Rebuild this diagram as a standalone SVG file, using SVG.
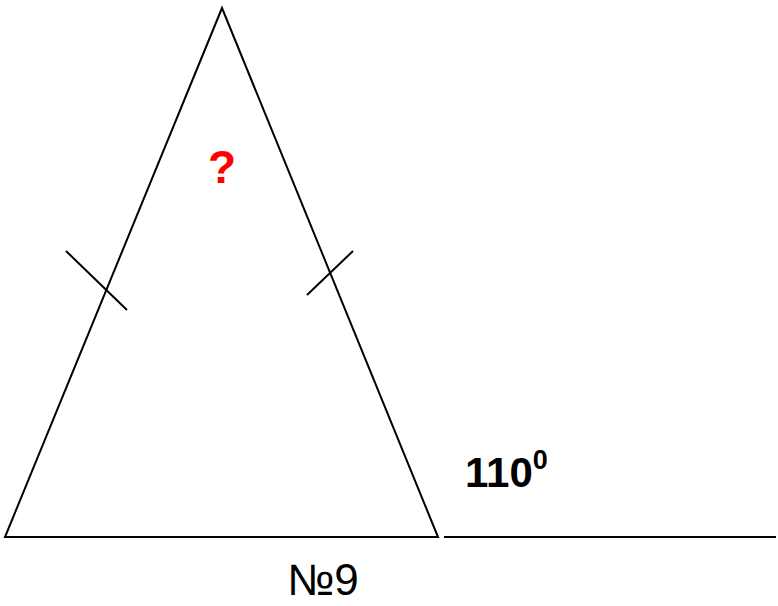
<svg xmlns="http://www.w3.org/2000/svg" width="778" height="606" viewBox="0 0 778 606">
<style>
.ln{stroke:#000;stroke-width:2;fill:none;stroke-linecap:butt;stroke-linejoin:miter}
.t{font-family:"Liberation Sans",Arial,sans-serif}
</style>
<rect width="778" height="606" fill="#fff"/>
<g id="triangle">
<polygon class="ln" points="222,8 5,537 438,537"/>
<line class="ln" x1="66" y1="251" x2="127" y2="310"/>
<line class="ln" x1="353" y1="251" x2="307" y2="295"/>
</g>
<g id="extension">
<line class="ln" x1="444" y1="537" x2="776" y2="537"/>
</g>
<g id="labels">
<text class="t" x="222" y="183" font-size="46" font-weight="bold" fill="#f00" text-anchor="middle">?</text>
<text class="t" x="465" y="487" font-size="42" font-weight="bold" fill="#000">110<tspan font-size="27" dy="-18">0</tspan></text>
<text class="t" x="323" y="595" font-size="44" fill="#000" text-anchor="middle">№9</text>
</g>
</svg>
